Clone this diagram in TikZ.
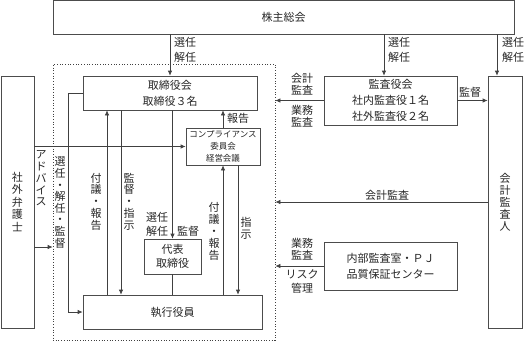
\documentclass[tikz,border=0pt]{standalone}
\usepackage{fontspec}
\newfontfamily\jpfont{Noto Sans CJK JP}
\usetikzlibrary{arrows.meta, positioning}

\begin{document}
\begin{tikzpicture}[x=1pt, y=-1pt,
    font=\jpfont\fontsize{11}{16}\selectfont, text=black!85,
    box/.style={draw=black!70, line width=0.7pt, inner sep=0pt, align=center},
    arr/.style={draw=black!75, line width=0.7pt, -{Latex[length=5pt,width=4.5pt]}},
    ln/.style={draw=black!75, line width=0.7pt},
    lab/.style={inner sep=0pt, align=center, font=\jpfont\fontsize{11}{12}\selectfont},
    tate/.style={inner sep=0pt, align=center, font=\jpfont\fontsize{11}{11.75}\selectfont}]
    \useasboundingbox (0,0) rectangle (531,341);

    % 枠
    \node[draw=black!75, dotted, line width=0.7pt, minimum width=222pt, minimum height=276pt, inner sep=0pt] (frame) at (164,202) {};

    % 機関
    \node[box, minimum width=461pt, minimum height=34pt] (soukai) at (283.5,17) {株主総会};
    \node[box, minimum width=174pt, minimum height=34pt] (torishimari) at (170,93) {取締役会\\取締役３名};
    \node[box, minimum width=133pt, minimum height=49pt] (kansayaku) at (390.5,100.5) {監査役会\\社内監査役１名\\社外監査役２名};
    \node[box, minimum width=34pt, minimum height=252pt, font=\jpfont\fontsize{11}{12}\selectfont] (kaikei) at (505,202) {会\\計\\監\\査\\人};
    \node[box, minimum width=33pt, minimum height=252pt, font=\jpfont\fontsize{11}{12.5}\selectfont] (bengoshi) at (17.5,202) {社\\外\\弁\\護\\士};
    \node[box, minimum width=74pt, minimum height=37pt, font=\jpfont\fontsize{8.5}{12}\selectfont] (comp) at (223,146.5) {コンプライアンス\\委員会\\経営会議};
    \node[box, minimum width=57pt, minimum height=35pt, font=\jpfont\fontsize{11}{13.5}\selectfont] (daihyo) at (172.5,256.5) {代表\\取締役};
    \node[box, minimum width=179pt, minimum height=34pt] (shikkou) at (172.5,312) {執行役員};
    \node[box, minimum width=133pt, minimum height=48pt] (naibu) at (390.5,266) {内部監査室・ＰＪ\\品質保証センター};

    % 株主総会から
    \coordinate (kin) at ([xshift=-6.5pt]kansayaku.north);
    \coordinate (kkin) at ([xshift=-8pt]kaikei.north);
    \draw[arr] (soukai.south -| torishimari.north) -- (torishimari.north);
    \draw[arr] (soukai.south -| kin) -- (kin);
    \draw[arr] (soukai.south -| kkin) -- (kkin);
    \node[lab, anchor=west, font=\jpfont\fontsize{11}{15}\selectfont] at (174,49.5) {選任\\解任};
    \node[lab, anchor=west, font=\jpfont\fontsize{11}{15}\selectfont] at (388,49.5) {選任\\解任};
    \node[lab, anchor=west, font=\jpfont\fontsize{11}{15}\selectfont] at (502,49.5) {選任\\解任};

    % 監査
    \draw[arr] (kansayaku.west) -- (kansayaku.west -| frame.east);
    \node[lab] at (302,84) {会計\\監査};
    \node[lab] at (302,116) {業務\\監査};
    \draw[arr] (kansayaku.east) -- (kansayaku.east -| kaikei.west);
    \node[lab] at (470,92) {監督};
    \draw[arr] (kaikei.west) -- (kaikei.west -| frame.east);
    \node[lab] at (387,195) {会計監査};
    \draw[arr] (naibu.west) -- (naibu.west -| frame.east);
    \node[lab] at (302,249) {業務\\監査};
    \node[lab, font=\jpfont\fontsize{11}{14}\selectfont] at (302,282) {リスク\\管理};

    % 社外弁護士
    \coordinate (yb) at (0,247);
    \draw[arr] (bengoshi.east |- comp.west) -- (comp.west);
    \draw[arr] (bengoshi.east |- yb) -- (frame.west |- yb);
    \node[tate] at (41,178.5) {ア\\ド\\バ\\イ\\ス};

    % 取締役会と執行役員
    \coordinate (xa) at (107,0);
    \coordinate (xb) at (121,0);
    \coordinate (xc) at (238,0);
    \draw[arr] (torishimari.west) -- ++(-14,0) |- (shikkou.west);
    \node[tate, font=\jpfont\fontsize{11}{11.6}\selectfont] at (60,202.5) {選\\任\\・\\解\\任\\・\\監\\督};
    \draw[arr] (shikkou.north -| xa) -- (torishimari.south -| xa);
    \node[tate] at (96,201.5) {付\\議\\・\\報\\告};
    \draw[arr] (torishimari.south -| xb) -- (shikkou.north -| xb);
    \node[tate] at (129,201.5) {監\\督\\・\\指\\示};
    \draw[arr] (torishimari.south -| daihyo.north) -- (daihyo.north);
    \node[lab, font=\jpfont\fontsize{11}{14}\selectfont] at (157,224) {選任\\解任};
    \node[lab] at (188,231) {監督};
    \draw[ln] (daihyo.south) -- (shikkou.north -| daihyo.south);

    % コンプライアンス委員会
    \draw[arr] (comp.north) -- (torishimari.south -| comp.north);
    \node[lab] at (238,118) {報告};
    \draw[arr] (shikkou.north -| comp.south) -- (comp.south);
    \node[tate, font=\jpfont\fontsize{11}{12}\selectfont] at (214,231) {付\\議\\・\\報\\告};
    \draw[arr] (comp.south -| xc) -- (shikkou.north -| xc);
    \node[tate] at (246,228) {指\\示};
\end{tikzpicture}
\end{document}
